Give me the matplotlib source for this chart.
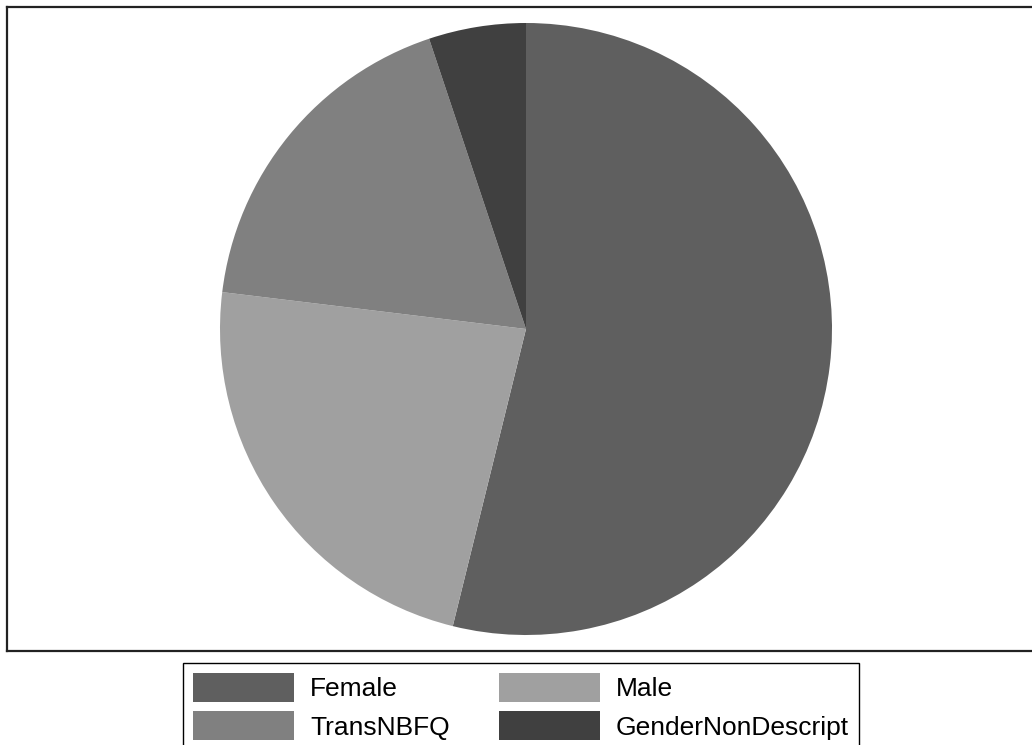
import matplotlib
matplotlib.use("Agg")
import matplotlib.pyplot as plt


labels = ["Female", "Male", "TransNBFQ", "GenderNonDescript"]
counts = [42, 18, 14, 4]
colors = ["#5f5f5f", "#a0a0a0", "#808080", "#404040"]

W, H = 1032, 745


def main():
    plt.rcParams["font.family"] = ["Liberation Sans", "DejaVu Sans"]

    fig = plt.figure(figsize=(W / 100, H / 100), dpi=100)
    fig.patch.set_facecolor("white")

    # plot frame runs off the right edge of the figure
    left, right, top, bottom = 7, 1045, 7, 651
    ax = fig.add_axes([left / W, 1 - bottom / H, (right - left) / W, (bottom - top) / H])

    wedges, _ = ax.pie(
        counts,
        colors=colors,
        startangle=90,
        counterclock=False,
        radius=1.0,
        wedgeprops={"linewidth": 0},
    )

    r_px = 306
    half_w = (right - left) / 2 / r_px
    half_h = (bottom - top) / 2 / r_px
    ax.set_xlim(-half_w, half_w)
    ax.set_ylim(-half_h, half_h)
    ax.set_aspect("auto")
    ax.set_frame_on(True)
    ax.set_xticks([])
    ax.set_yticks([])
    for spine in ax.spines.values():
        spine.set_visible(True)
        spine.set_linewidth(1.6)
        spine.set_color("#222222")

    # two-column legend: Female / Male on top, TransNBFQ / GenderNonDescript below
    order = [0, 2, 1, 3]
    leg = fig.legend(
        [wedges[i] for i in order],
        [labels[i] for i in order],
        loc="upper left",
        bbox_to_anchor=(183 / W, 1 - 663 / H),
        ncol=2,
        fontsize=19,
        frameon=True,
        fancybox=False,
        framealpha=1,
        edgecolor="black",
        borderaxespad=0,
        borderpad=0.38,
        handlelength=3.83,
        handleheight=1.32,
        handletextpad=0.61,
        columnspacing=1.86,
        labelspacing=0.35,
    )
    leg.get_frame().set_linewidth(1.0)

    fig.savefig("out.png", dpi=100)
    plt.close(fig)


if __name__ == "__main__":
    main()
